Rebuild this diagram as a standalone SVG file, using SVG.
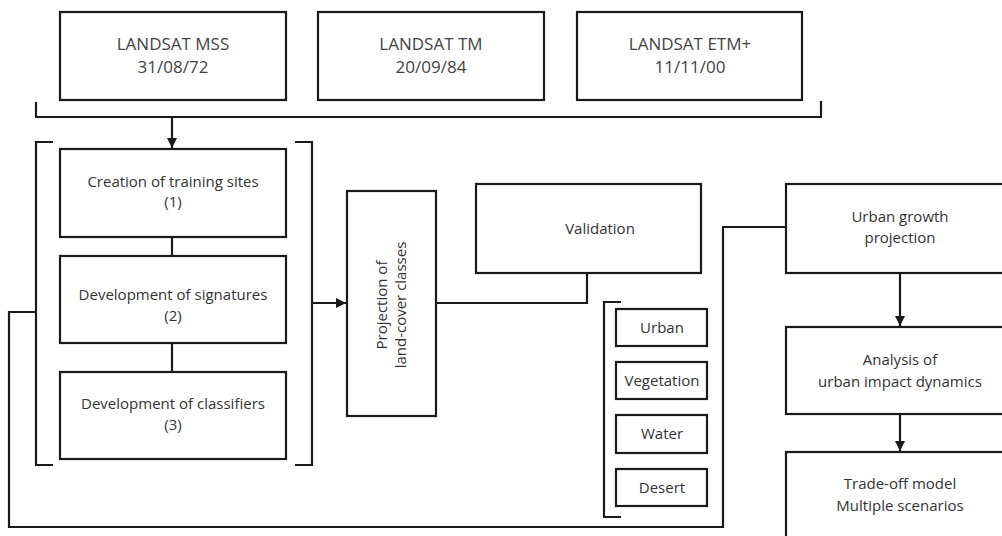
<svg xmlns="http://www.w3.org/2000/svg" width="1002" height="536" viewBox="0 0 1002 536">
<defs>
<marker id="arr" viewBox="0 0 10 10" refX="10" refY="5" markerWidth="10" markerHeight="10" markerUnits="userSpaceOnUse" orient="auto">
<path d="M0,0 L10,5 L0,10 Z" fill="#1a1a1a"/>
</marker>
<style>
.box{fill:#fff;stroke:#1a1a1a;stroke-width:2.2}
.ln{fill:none;stroke:#1a1a1a;stroke-width:2.2}
.t{font-family:"Open Sans","Liberation Sans",sans-serif;font-size:15px;fill:#333;text-anchor:middle}
.tt{font-family:"Open Sans","Liberation Sans",sans-serif;font-size:17px;fill:#444;text-anchor:middle}
</style>
</defs>
<rect width="1002" height="536" fill="#fff"/>
<g id="connectors">
<path class="ln" d="M36,102 V117 H821 V101"/>
<path class="ln" d="M172,117 V148" marker-end="url(#arr)"/>
<path class="ln" d="M53,142 H36 V465 H53"/>
<path class="ln" d="M295,142 H312 V465 H295"/>
<path class="ln" d="M172,237 V256"/>
<path class="ln" d="M172,343 V372"/>
<path class="ln" d="M312,303 H346" marker-end="url(#arr)"/>
<path class="ln" d="M436,303 H587 V273"/>
<path class="ln" d="M621,302 H604 V517 H621"/>
<path class="ln" d="M36,312 H9 V527 H723 V227 H786"/>
<path class="ln" d="M900,273 V326" marker-end="url(#arr)"/>
<path class="ln" d="M900,414 V451" marker-end="url(#arr)"/>
</g>
<g id="mss"><rect class="box" x="60" y="12" width="226" height="88"/><text class="tt" x="173" y="50">LANDSAT MSS</text><text class="tt" x="173" y="73">31/08/72</text></g>
<g id="tm"><rect class="box" x="318" y="12" width="226" height="88"/><text class="tt" x="431" y="50">LANDSAT TM</text><text class="tt" x="431" y="73">20/09/84</text></g>
<g id="etm"><rect class="box" x="577" y="12" width="225" height="88"/><text class="tt" x="690" y="50">LANDSAT ETM+</text><text class="tt" x="690" y="73">11/11/00</text></g>
<g id="training"><rect class="box" x="60" y="149" width="226" height="88"/><text class="t" x="173" y="187">Creation of training sites</text><text class="t" x="173" y="207">(1)</text></g>
<g id="signatures"><rect class="box" x="60" y="256" width="226" height="87"/><text class="t" x="173" y="300">Development of signatures</text><text class="t" x="173" y="321">(2)</text></g>
<g id="classifiers"><rect class="box" x="60" y="372" width="226" height="87"/><text class="t" x="173" y="409">Development of classifiers</text><text class="t" x="173" y="430">(3)</text></g>
<g id="projection"><rect class="box" x="347" y="191" width="89" height="225"/><text class="t" transform="translate(387,305) rotate(-90)">Projection of</text><text class="t" transform="translate(406,305) rotate(-90)">land-cover classes</text></g>
<g id="validation"><rect class="box" x="476" y="184" width="225" height="89"/><text class="t" x="600" y="234">Validation</text></g>
<g id="urban"><rect class="box" x="616" y="309" width="91" height="37"/><text class="t" x="662" y="333">Urban</text></g>
<g id="vegetation"><rect class="box" x="616" y="362" width="91" height="37"/><text class="t" x="662" y="386">Vegetation</text></g>
<g id="water"><rect class="box" x="616" y="415" width="91" height="38"/><text class="t" x="662" y="439">Water</text></g>
<g id="desert"><rect class="box" x="616" y="469" width="91" height="37"/><text class="t" x="662" y="493">Desert</text></g>
<g id="growth"><rect class="box" x="786" y="184" width="230" height="89"/><text class="t" x="900" y="222">Urban growth</text><text class="t" x="900" y="243">projection</text></g>
<g id="analysis"><rect class="box" x="786" y="327" width="230" height="87"/><text class="t" x="900" y="365">Analysis of</text><text class="t" x="900" y="387">urban impact dynamics</text></g>
<g id="tradeoff"><rect class="box" x="786" y="452" width="230" height="100"/><text class="t" x="900" y="489">Trade-off model</text><text class="t" x="900" y="511">Multiple scenarios</text></g>
</svg>
